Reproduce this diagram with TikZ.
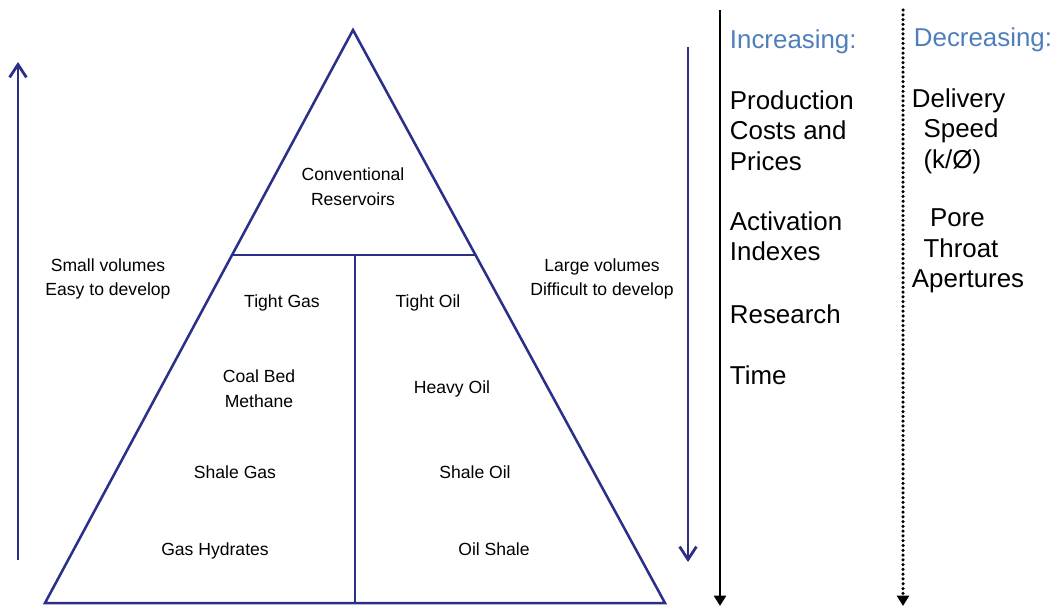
\documentclass[tikz,border=0pt]{standalone}
\usepackage{fontspec}
\setmainfont{Liberation Sans}
\usetikzlibrary{arrows.meta,calc}
\definecolor{pyrcol}{HTML}{2b2f8a}
\definecolor{headcol}{HTML}{4f7fba}

\begin{document}
\begin{tikzpicture}[x=0.025cm, y=-0.025cm,
  tri/.style={draw=pyrcol, line width=1.8pt, line join=miter},
  res/.style={align=center, text height=1.7ex, text depth=0.45ex, font=\fontsize{12.5}{17.5}\selectfont},
  side/.style={align=center, font=\fontsize{12.5}{17.5}\selectfont},
  col/.style={anchor=north west, align=left, font=\fontsize{18.4}{21.5}\selectfont},
  hdr/.style={anchor=north west, headcol, font=\fontsize{18.4}{21.5}\selectfont},
  bluearr/.style={draw=pyrcol, line width=2pt, -{Straight Barb[length=3.2mm,width=4.2mm,line width=2pt]}},
  blackarr/.style={draw=black, line width=2pt, -{Triangle[length=2.6mm,width=3mm]}}]
\useasboundingbox (0,0) rectangle (1056,608);

% pyramid
\coordinate (apex) at (353,30);
\coordinate (bl) at (45,603);
\coordinate (br) at (665,603);
\coordinate (cl) at ($(apex)!0.3927!(bl)$);
\coordinate (cr) at ($(apex)!0.3927!(br)$);
\coordinate (split) at ($(bl)!0.5!(br)$);
\draw[tri] (apex) -- (bl) -- (br) -- cycle;
\draw[tri] (cl) -- (cr);
\draw[tri] (split |- cl) -- (split);

\node[side] (conv) at (353,187) {Conventional\\Reservoirs};
\node[res] (tgas) at (282,303) {Tight Gas};
\node[res] (toil) at (428,303) {Tight Oil};
\node[side] (cbm) at (259,389) {Coal Bed\\Methane};
\node[res] (hoil) at (452,389) {Heavy Oil};
\node[res] (sgas) at (235,474) {Shale Gas};
\node[res] (soil) at (475,474) {Shale Oil};
\node[res] (hyd) at (215,551) {Gas Hydrates};
\node[res] (oshale) at (494,551) {Oil Shale};

% side notes
\node[side] (small) at (108,279) {Small volumes\\Easy to develop};
\node[side] (large) at (602,279) {Large volumes\\Difficult to develop};

\coordinate (upS) at (18,560);
\coordinate (upE) at (18,62);
\coordinate (dnS) at (688,47);
\coordinate (dnE) at (688,562);
\draw[bluearr] (upS) -- (upE);
\draw[bluearr] (dnS) -- (dnE);

% columns
\coordinate (incT) at (720,10);
\coordinate (incB) at (720,606);
\coordinate (decT) at (903,10);
\coordinate (decB) at (903,606);
\draw[blackarr] (incT) -- (incB);
\draw[blackarr, line cap=round, dash pattern=on 0pt off 3.4pt, line width=2.5pt] (decT) -- (decB);

\node[hdr] (inc) at (725,25) {Increasing:};
\node[hdr] (dec) at (909,23) {Decreasing:};

\node[col] (prod) at (725,86) {Production\\Costs and\\Prices};
\node[col] (act) at (725,207) {Activation\\Indexes};
\node[col] (resr) at (725,300) {Research};
\node[col] (time) at (725,361) {Time};

\node[col] (speed) at (907,84) {Delivery\\\hspace*{0.45em}Speed\\\hspace*{0.45em}(k/Ø)};
\node[col] (pore) at (907,204) {\hspace*{0.7em}Pore\\\hspace*{0.45em}Throat\\Apertures};
\end{tikzpicture}
\end{document}
